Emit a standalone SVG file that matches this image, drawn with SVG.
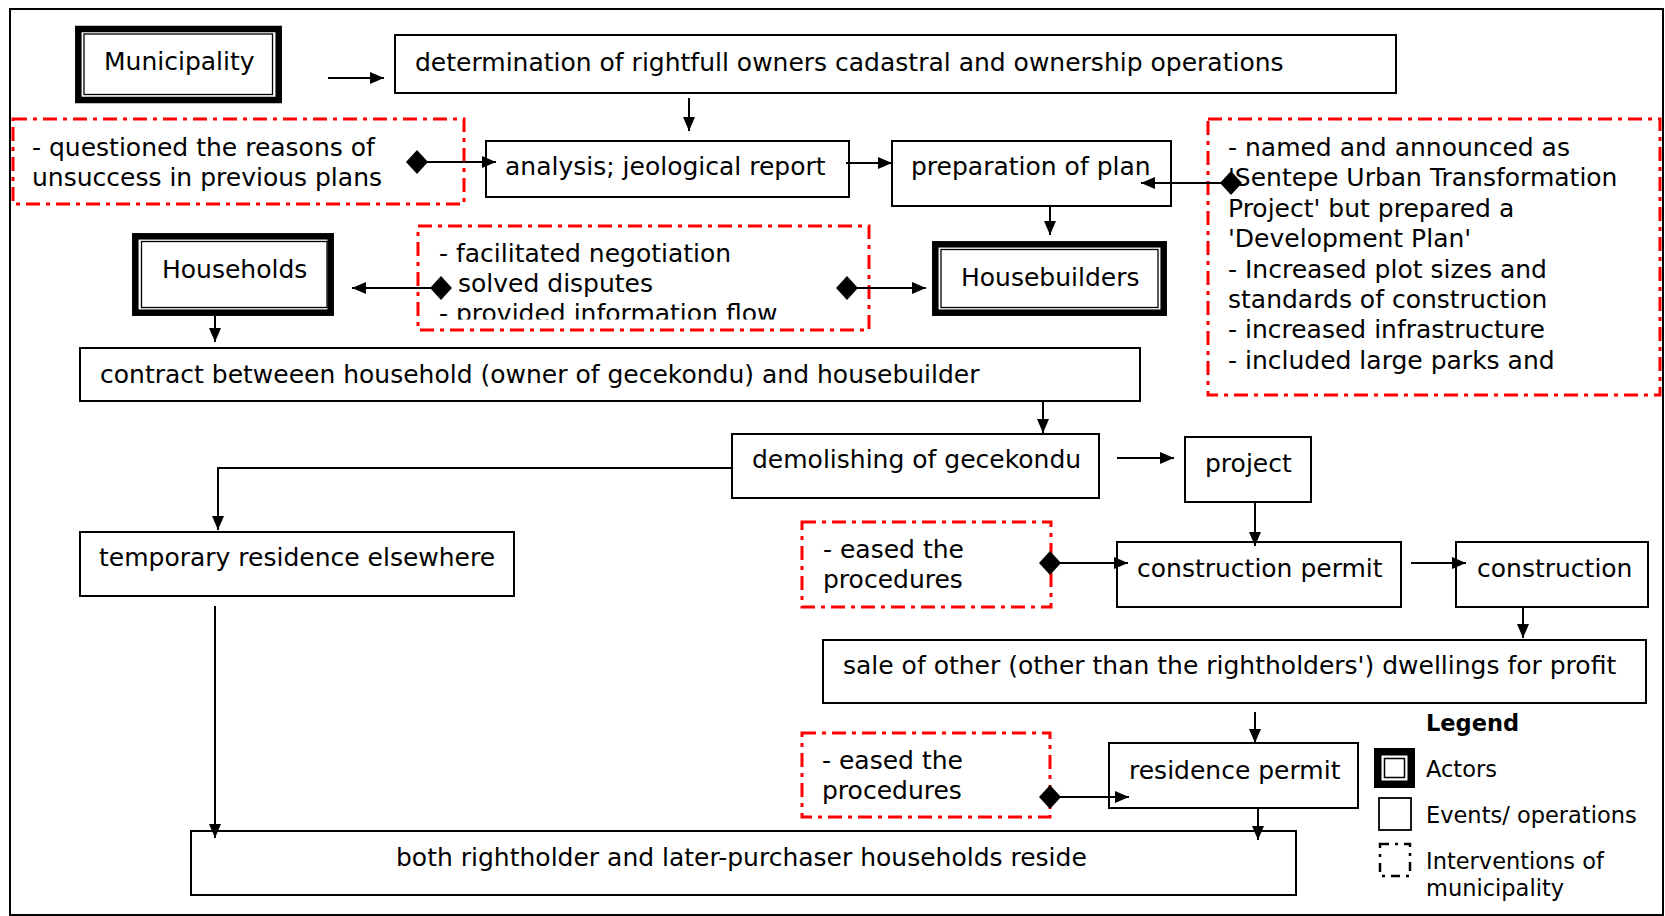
<svg xmlns="http://www.w3.org/2000/svg" width="1665" height="916" viewBox="0 0 1665 916">
  <style>
    text { font-family: "DejaVu Sans", Verdana, sans-serif; font-size: 25px; fill: #000; }
    .ev { fill: #fff; stroke: #000; stroke-width: 2; }
    .act-outer { fill: #fff; stroke: #000; stroke-width: 6.5; }
    .act-inner { fill: none; stroke: #000; stroke-width: 1.3; }
    .iv { fill: none; stroke: #ff0000; stroke-width: 3; stroke-dasharray: 14 6 4 6; }
    .cn { fill: none; stroke: #000; stroke-width: 2; }
    .arr { marker-end: url(#arrow); }
    .dia { marker-start: url(#diamond); }
    .lg { font-size: 22.5px; }
    .lgb { font-size: 22.5px; font-weight: bold; }
  </style>
  <defs>
    <marker id="arrow" viewBox="0 0 14 12" refX="14" refY="6" markerWidth="14" markerHeight="12" markerUnits="userSpaceOnUse" orient="auto">
      <path d="M0,0 L14,6 L0,12 Z" fill="#000"/>
    </marker>
    <marker id="diamond" viewBox="0 0 22 24" refX="11" refY="12" markerWidth="22" markerHeight="24" markerUnits="userSpaceOnUse" orient="auto">
      <path d="M0,12 L11,0 L22,12 L11,24 Z" fill="#000"/>
    </marker>
    <clipPath id="clip-negotiation">
      <rect x="418" y="226" width="451" height="93.5"/>
    </clipPath>
    <clipPath id="clip-announced">
      <rect x="1208" y="119" width="452" height="263"/>
    </clipPath>
  </defs>

  <!-- outer frame -->
  <rect x="10" y="9" width="1653" height="906" fill="#fff" stroke="#000" stroke-width="2"/>

  <!-- actors -->
  <g id="municipality">
    <rect class="act-outer" x="78.3" y="29" width="200.4" height="71"/>
    <rect class="act-inner" x="84" y="34" width="188.5" height="60.5"/>
    <text x="104" y="70">Municipality</text>
  </g>
  <g id="households">
    <rect class="act-outer" x="135.3" y="236.3" width="195.4" height="76.4"/>
    <rect class="act-inner" x="141.5" y="241.5" width="185.5" height="66"/>
    <text x="162" y="278">Households</text>
  </g>
  <g id="housebuilders">
    <rect class="act-outer" x="935.3" y="244.3" width="228.4" height="68.4"/>
    <rect class="act-inner" x="941" y="249.5" width="217" height="58"/>
    <text x="961" y="286">Housebuilders</text>
  </g>

  <!-- events / operations -->
  <g id="determination">
    <rect class="ev" x="395" y="35" width="1001" height="58"/>
    <text x="415" y="71">determination of rightfull owners cadastral and ownership operations</text>
  </g>
  <g id="analysis">
    <rect class="ev" x="486" y="141" width="363" height="56"/>
    <text x="505" y="175">analysis; jeological report</text>
  </g>
  <g id="preparation">
    <rect class="ev" x="892" y="141" width="279" height="65"/>
    <text x="911" y="175">preparation of plan</text>
  </g>
  <g id="contract">
    <rect class="ev" x="80" y="348" width="1060" height="53"/>
    <text x="100" y="383">contract betweeen household (owner of gecekondu) and housebuilder</text>
  </g>
  <g id="demolishing">
    <rect class="ev" x="732" y="434" width="367" height="64"/>
    <text x="752" y="468">demolishing of gecekondu</text>
  </g>
  <g id="project">
    <rect class="ev" x="1185" y="437" width="126" height="65"/>
    <text x="1205" y="472">project</text>
  </g>
  <g id="temporary-residence">
    <rect class="ev" x="80" y="532" width="434" height="64"/>
    <text x="99" y="566">temporary residence elsewhere</text>
  </g>
  <g id="construction-permit">
    <rect class="ev" x="1117" y="542" width="284" height="65"/>
    <text x="1137" y="577">construction permit</text>
  </g>
  <g id="construction">
    <rect class="ev" x="1456" y="542" width="192" height="65"/>
    <text x="1477" y="577">construction</text>
  </g>
  <g id="sale">
    <rect class="ev" x="823" y="640" width="823" height="63"/>
    <text x="843" y="674">sale of other (other than the rightholders') dwellings for profit</text>
  </g>
  <g id="residence-permit">
    <rect class="ev" x="1109" y="743" width="249" height="65"/>
    <text x="1129" y="779">residence permit</text>
  </g>
  <g id="both-reside">
    <rect class="ev" x="191" y="831" width="1105" height="64"/>
    <text x="396" y="866">both rightholder and later-purchaser households reside</text>
  </g>

  <!-- interventions of municipality -->
  <g id="iv-questioned">
    <rect class="iv" x="13" y="119" width="451" height="85"/>
    <text x="32" y="156">- questioned the reasons of</text>
    <text x="32" y="186">unsuccess in previous plans</text>
  </g>
  <g id="iv-negotiation">
    <rect class="iv" x="418" y="226" width="451" height="104"/>
    <g clip-path="url(#clip-negotiation)">
      <text x="439" y="262">- facilitated negotiation</text>
      <text x="458" y="292">solved disputes</text>
      <text x="439" y="322">- provided information flow</text>
    </g>
  </g>
  <g id="iv-announced">
    <rect class="iv" x="1208" y="119" width="452" height="276"/>
    <g clip-path="url(#clip-announced)">
      <text x="1228" y="156">- named and announced as</text>
      <text x="1228" y="186.4">'Sentepe Urban Transformation</text>
      <text x="1228" y="216.8">Project' but prepared a</text>
      <text x="1228" y="247.2">'Development Plan'</text>
      <text x="1228" y="277.6">- Increased plot sizes and</text>
      <text x="1228" y="308">standards of construction</text>
      <text x="1228" y="338.4">- increased infrastructure</text>
      <text x="1228" y="368.8">- included large parks and</text>
    </g>
  </g>
  <g id="iv-eased-construction">
    <rect class="iv" x="802" y="522" width="249" height="85"/>
    <text x="823" y="558">- eased the</text>
    <text x="823" y="588">procedures</text>
  </g>
  <g id="iv-eased-residence">
    <rect class="iv" x="802" y="733" width="248" height="84"/>
    <text x="822" y="769">- eased the</text>
    <text x="822" y="799">procedures</text>
  </g>

  <!-- legend -->
  <g id="legend">
    <text class="lgb" x="1426" y="731">Legend</text>
    <rect x="1374" y="748" width="41" height="40" fill="#000"/>
    <rect x="1381.5" y="755.5" width="26" height="25" fill="#fff"/>
    <rect x="1384.5" y="758.5" width="20" height="19" fill="none" stroke="#000" stroke-width="1.5"/>
    <text class="lg" x="1426" y="777">Actors</text>
    <rect x="1379" y="798" width="32" height="32" fill="#fff" stroke="#000" stroke-width="1.8"/>
    <text class="lg" x="1426" y="823">Events/ operations</text>
    <rect x="1380" y="844" width="30" height="32" fill="none" stroke="#000" stroke-width="2.5" stroke-dasharray="9 6 3 6"/>
    <text class="lg" x="1426" y="869">Interventions of</text>
    <text class="lg" x="1426" y="896">municipality</text>
  </g>

  <!-- connectors -->
  <g id="connectors">
    <path class="cn arr" d="M328,78 H384"/>
    <path class="cn arr" d="M689,98 V131"/>
    <path class="cn arr dia" d="M417,162 H496"/>
    <path class="cn arr" d="M846,163 H892"/>
    <path class="cn arr dia" d="M1231,183 H1141"/>
    <path class="cn arr" d="M1050,206 V235"/>
    <path class="cn arr dia" d="M441,288 H352"/>
    <path class="cn arr dia" d="M847,288 H926"/>
    <path class="cn arr" d="M215,316 V342"/>
    <path class="cn arr" d="M1043,401 V433"/>
    <path class="cn arr" d="M732,468 H218 V530"/>
    <path class="cn arr" d="M215,606 V838"/>
    <path class="cn arr" d="M1117,458 H1174"/>
    <path class="cn arr" d="M1255,502 V546"/>
    <path class="cn arr dia" d="M1050,563 H1128"/>
    <path class="cn arr" d="M1411,563 H1466"/>
    <path class="cn arr" d="M1523,606 V638"/>
    <path class="cn arr" d="M1255,712 V743"/>
    <path class="cn arr dia" d="M1050,797 H1129"/>
    <path class="cn arr" d="M1258,808 V840"/>
  </g>
</svg>
